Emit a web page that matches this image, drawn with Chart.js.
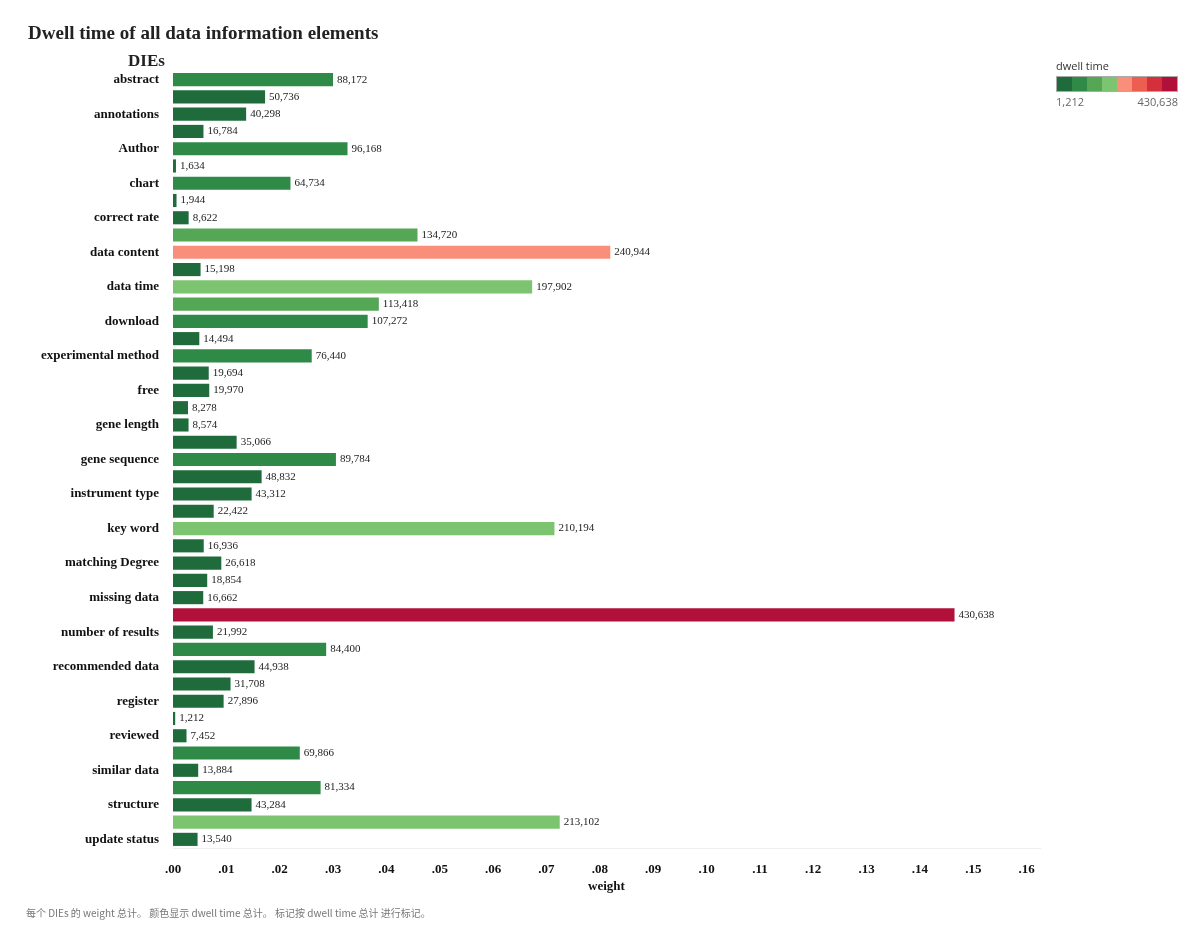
<!DOCTYPE html>
<html>
<head>
<meta charset="utf-8">
<script src="https://cdn.jsdelivr.net/npm/chart.js@4/dist/chart.umd.min.js"></script>
<style>
  body { margin: 0; background: #fff; }
  #wrap { position: relative; width: 1200px; height: 944px; }
  #title { position: absolute; left: 28px; top: 22px; font: bold 19px "Liberation Serif", serif; color: #222; }
  #dies { position: absolute; left: 128px; top: 51px; font: bold 17px "Liberation Serif", serif; color: #222; }
  #legend { position: absolute; left: 1056px; top: 58px; font: 11px "Open Sans", sans-serif; color: #333; }
  #legend .bar { display: flex; width: 120px; height: 14px; border: 1px solid #aaa; margin-top: 3px; }
  #legend .bar span { flex: 1; }
  #legend .ends { display: flex; justify-content: space-between; width: 122px; color: #666; font-size: 11px; margin-top: 2px; }
  #foot { position: absolute; left: 26px; top: 905px; font: 10px "Noto Sans CJK SC", sans-serif; color: #777; }
</style>
</head>
<body>
<div id="wrap">
  <canvas id="chart-dies" width="1200" height="944"></canvas>
  <div id="title">Dwell time of all data information elements</div>
  <div id="dies">DIEs</div>
  <div id="legend">dwell time<div class="bar" id="legend-bar"></div><div class="ends"><span>1,212</span><span>430,638</span></div></div>
  <div id="foot">每个 DIEs 的 weight 总计。 颜色显示 dwell time 总计。 标记按 dwell time 总计 进行标记。</div>
</div>
<script>
const categories = ['abstract','analyze results','annotations','auditable','Author','CDS','chart','citation frequency','correct rate','Data area','data content','data size','data time','description','download','exact mass','experimental method','format','free','gene function','gene length','gene location','gene sequence','institute','instrument type','journal','key word','links','matching Degree','menu','missing data','name','number of results','publish time','recommended data','references','register','resolution','reviewed','share level','similar data','species','structure','title','update status'];
const dwellTime = [88172,50736,40298,16784,96168,1634,64734,1944,8622,134720,240944,15198,197902,113418,107272,14494,76440,19694,19970,8278,8574,35066,89784,48832,43312,22422,210194,16936,26618,18854,16662,430638,21992,84400,44938,31708,27896,1212,7452,69866,13884,81334,43284,213102,13540];
const xTicks = [0,0.01,0.02,0.03,0.04,0.05,0.06,0.07,0.08,0.09,0.10,0.11,0.12,0.13,0.14,0.15,0.16];
const palette = ['#1f6b3b','#2f8a48','#55a655','#7cc46f','#f98f7a','#ee5e50','#d52f3c','#b0103a'];

// weight = share of total dwell time
const total = dwellTime.reduce((a, b) => a + b, 0);
const weight = dwellTime.map(v => v / total);
const dMin = Math.min(...dwellTime), dMax = Math.max(...dwellTime);
const colorFor = v => palette[Math.min(7, Math.floor((v - dMin) / (dMax - dMin) * 8))];

document.getElementById('legend-bar').innerHTML = palette.map(c => `<span style="background:${c}"></span>`).join('');

const valueLabels = {
  id: 'valueLabels',
  afterDatasetsDraw(chart) {
    const ctx = chart.ctx;
    ctx.save();
    ctx.font = '11px "Liberation Serif", serif';
    ctx.fillStyle = '#222';
    ctx.textBaseline = 'middle';
    chart.getDatasetMeta(0).data.forEach((bar, i) => {
      ctx.fillText(dwellTime[i].toLocaleString('en-US'), bar.x + 4, bar.y);
    });
    ctx.restore();
  }
};

new Chart(document.getElementById('chart-dies'), {
  type: 'bar',
  data: {
    labels: categories,
    datasets: [{
      data: weight,
      backgroundColor: dwellTime.map(colorFor),
      barPercentage: 0.76,
      categoryPercentage: 1
    }]
  },
  options: {
    indexAxis: 'y',
    responsive: false,
    animation: false,
    layout: { padding: { top: 71, bottom: 46, right: 160, left: 0 } },
    plugins: { legend: { display: false }, tooltip: { enabled: false } },
    scales: {
      y: {
        afterFit: s => { s.width = 173; },
        grid: { display: false },
        border: { display: false },
        ticks: { color: '#111', padding: 6, font: { family: '"Liberation Serif", serif', weight: 'bold', size: 13 } }
      },
      x: {
        min: 0,
        max: 0.1625,
        afterFit: s => { s.height = 50; },
        afterBuildTicks: s => { s.ticks = xTicks.map(v => ({ value: v })); },
        grid: { display: false },
        border: { color: '#eee' },
        ticks: {
          color: '#111',
          padding: 6,
          font: { family: '"Liberation Serif", serif', weight: 'bold', size: 13 },
          callback: v => '.' + String(Math.round(v * 100)).padStart(2, '0')
        },
        title: { display: true, text: 'weight', color: '#111', padding: { top: 4 }, font: { family: '"Liberation Serif", serif', weight: 'bold', size: 13 } }
      }
    }
  },
  plugins: [valueLabels]
});
</script>
</body>
</html>
